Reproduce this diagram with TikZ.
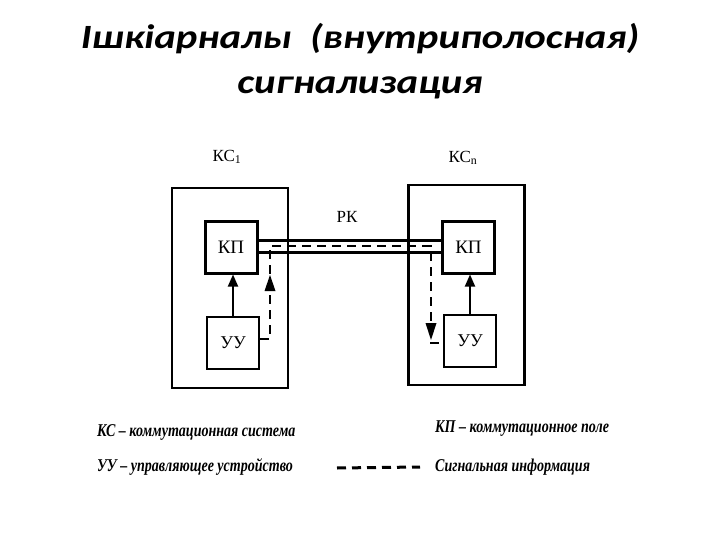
\documentclass[tikz,border=0pt]{standalone}
\usepackage{fontspec}
\setmainfont{Liberation Serif}
\newfontfamily\titlefont{Carlito}
\usetikzlibrary{arrows.meta,calc}
\tikzset{
  outerbox/.style={draw,line width=2.4pt,minimum width=116pt,minimum height=200pt,inner sep=0pt},
  kpbox/.style={draw,line width=3pt,minimum width=52pt,minimum height=51pt,inner sep=0pt,font=\fontsize{19}{21}\selectfont},
  uubox/.style={draw,line width=2.4pt,minimum width=52pt,minimum height=52pt,inner sep=0pt,font=\fontsize{18}{20}\selectfont},
  chan/.style={line width=3pt},
  sig/.style={line width=2.8pt,dash pattern=on 9pt off 6pt},
  ctrl/.style={line width=1.8pt},
  tipA/.style={-{Triangle[length=12pt,width=10pt]}},
  lbl/.style={font=\fontsize{17}{19}\selectfont},
  legend/.style={anchor=west,inner sep=0pt,font=\fontsize{18}{20}\selectfont\bfseries\itshape},
  titletext/.style={font=\titlefont\fontsize{34}{45}\selectfont\bfseries\itshape,align=center}
}
\newcommand{\legtext}[1]{\scalebox{0.78}[1]{#1}}
\newcommand{\ttltext}[1]{\scalebox{1.2}[1]{#1}}
\begin{document}
\begin{tikzpicture}[x=1pt,y=-1pt]
\useasboundingbox (0,0) rectangle (720,540);
% title
\node[titletext] (title) at (360,61) {\ttltext{Ішкіарналы\ \ (внутриполосная)}\\\ttltext{сигнализация}};
% boxes
\node[outerbox] (ksL) at (230,288) {};
\node[outerbox] (ksR) at (466.5,285) {};
\node[kpbox] (kpL) at (231,247.5) {КП};
\node[kpbox] (kpR) at (468.5,247.5) {КП};
\node[uubox] (uuL) at (233,343) {УУ};
\node[uubox] (uuR) at (470,341) {УУ};
% labels
\node[lbl] (ks1) at (227,157) {КС\textsubscript{1}};
\node[lbl] (ksn) at (463,158) {КС\textsubscript{n}};
\node[lbl] (rk) at (347,217) {РК};
% channel
\draw[chan] (kpL.east |- 0,240) -- (kpR.west |- 0,240);
\draw[chan] (kpL.east |- 0,252) -- (kpR.west |- 0,252);
% signalling path
\coordinate (c1) at (270,339);
\coordinate (c2) at (270,246);
\coordinate (c3) at (431,246);
\coordinate (c4) at (431,343);
\draw[sig] (uuL.east |- c1) -- (c1) -- (c2) -- (c3) -- (c4) -- (uuR.west |- c4);
\fill ($(c1)+(0,-64)$) -- ($(c1)+(-5.5,-48)$) -- ($(c1)+(5.5,-48)$) -- cycle;
\fill ($(c4)+(0,-3)$) -- ($(c4)+(-5.5,-20)$) -- ($(c4)+(5.5,-20)$) -- cycle;
% control arrows
\draw[ctrl,tipA] (uuL.north) -- (uuL.north |- kpL.south);
\draw[ctrl,tipA] (uuR.north) -- (uuR.north |- kpR.south);
% legend
\node[legend] (l1) at (97,432) {\legtext{КС – коммутационная система}};
\node[legend] (l2) at (435,429) {\legtext{КП – коммутационное поле}};
\node[legend] (l3) at (97,467) {\legtext{УУ – управляющее устройство}};
\node[legend] (l4) at (435,467) {\legtext{Сигнальная информация}};
\coordinate (d1) at (337,468);
\draw[sig,line width=3pt] (d1) -- (l4.west -| 420,0);
\end{tikzpicture}
\end{document}
